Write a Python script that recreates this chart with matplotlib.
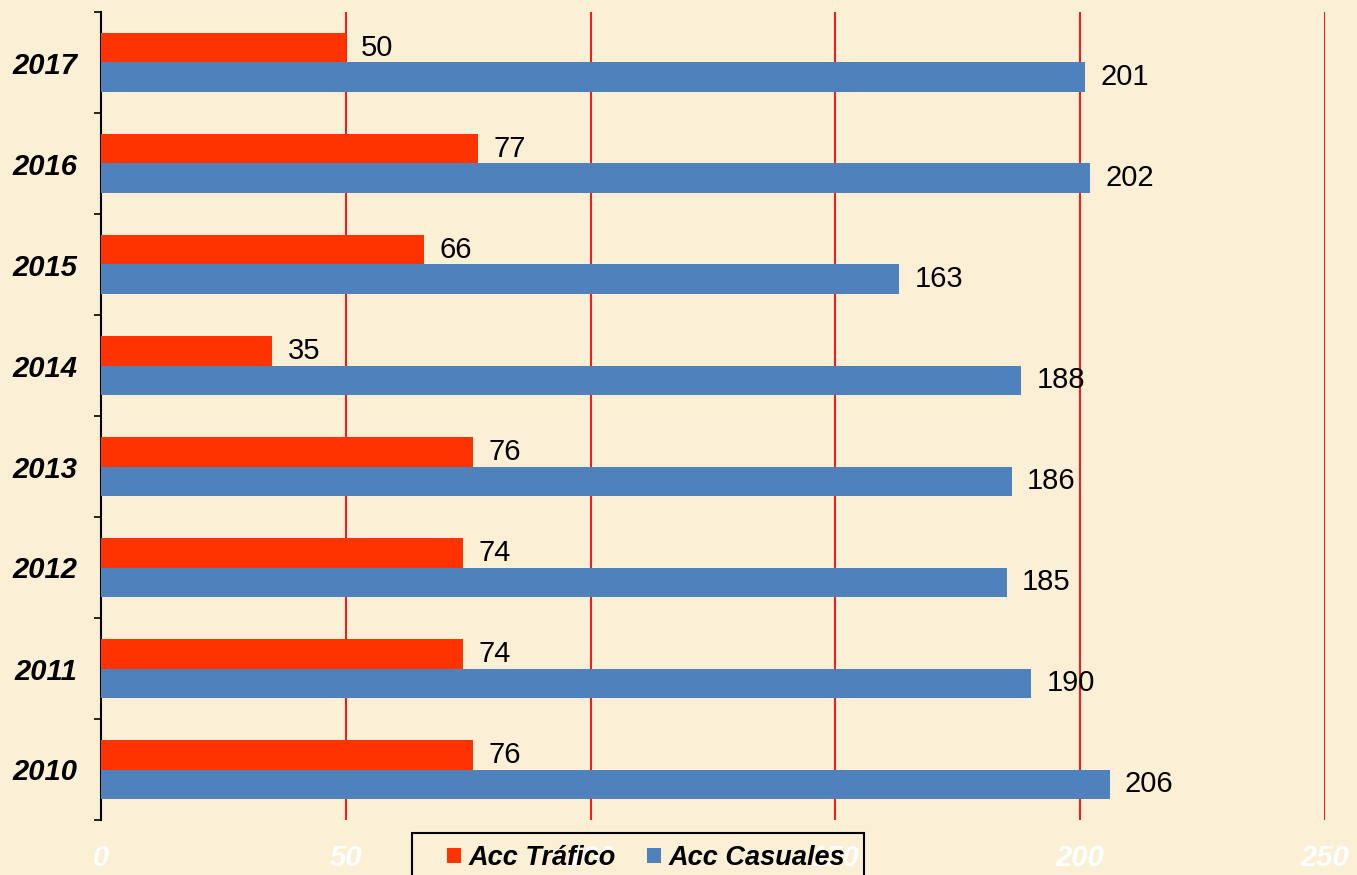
import matplotlib
matplotlib.use("Agg")
import matplotlib.pyplot as plt
import numpy as np
from matplotlib.patches import Patch, Rectangle

years = ["2010", "2011", "2012", "2013", "2014", "2015", "2016", "2017"]
acc_trafico = [76, 74, 74, 76, 35, 66, 77, 50]
acc_casuales = [206, 190, 185, 186, 188, 163, 202, 201]
series_names = ["Acc Tráfico", "Acc Casuales"]
xticks = [0, 50, 100, 150, 200, 250]

plt.rcParams['font.family'] = ['Liberation Sans', 'DejaVu Sans']

bg = '#FBF0D6'
red = '#FF3300'
blue = '#4F81BD'

W, H = 1357, 875
fig = plt.figure(figsize=(W/100, H/100), dpi=100, facecolor=bg)
ax = fig.add_axes([101/W, 1-820/H, (1325-101)/W, (820-12)/H])
ax.set_facecolor(bg)

y = np.arange(len(years))
h = 0.29
b1 = ax.barh(y + h/2, acc_trafico, height=h, color=red, zorder=3)
b2 = ax.barh(y - h/2, acc_casuales, height=h, color=blue, zorder=3)

for bars, vals in ((b1, acc_trafico), (b2, acc_casuales)):
    for bar, v in zip(bars, vals):
        ax.annotate(str(v), (bar.get_width(), bar.get_y() + bar.get_height()/2),
                    xytext=(11, 0), textcoords='offset points',
                    ha='left', va='center', fontsize=21, color='black', zorder=4)

ax.set_xlim(0, 250)
ax.set_ylim(-0.5, len(years) - 0.5)
ax.set_xticks(xticks)
ax.set_xticklabels([str(t) for t in xticks], color='white', fontsize=21,
                   fontweight='bold', fontstyle='italic')
ax.tick_params(axis='x', length=0, pad=17)
ax.xaxis.grid(True, color='#FF0000', linewidth=1.3, zorder=0)
ax.set_axisbelow(True)

ax.set_yticks(y)
ax.set_yticklabels(years, fontsize=21, fontweight='bold', fontstyle='italic')
ax.set_yticks(np.arange(len(years) + 1) - 0.5, minor=True)
ax.tick_params(axis='y', which='major', length=0, pad=17)
ax.tick_params(axis='y', which='minor', length=5, width=1.2, direction='out', color='black')

for s in ('top', 'right', 'bottom'):
    ax.spines[s].set_visible(False)
ax.spines['left'].set_color('black')
ax.spines['left'].set_linewidth(1.5)

# legend frame
frame = Rectangle((412/W, 1-(H+5)/H), (864-412)/W, (H+5-833)/H,
                  transform=fig.transFigure, facecolor='none',
                  edgecolor='black', linewidth=1.5, zorder=4)
fig.add_artist(frame)

handles = [Patch(facecolor=red, edgecolor='none'), Patch(facecolor=blue, edgecolor='none')]
leg = fig.legend(handles, series_names, loc='center left',
                 bbox_to_anchor=(447/W, 1-858/H), ncol=2,
                 prop={'family': ['Liberation Sans', 'DejaVu Sans'], 'size': 19.5,
                       'weight': 'bold', 'style': 'italic'},
                 frameon=False, handlelength=0.5, handleheight=0.45,
                 handletextpad=0.3, columnspacing=1.15, borderpad=0,
                 borderaxespad=0)

fig.savefig('out.png', dpi=100, facecolor=bg)
